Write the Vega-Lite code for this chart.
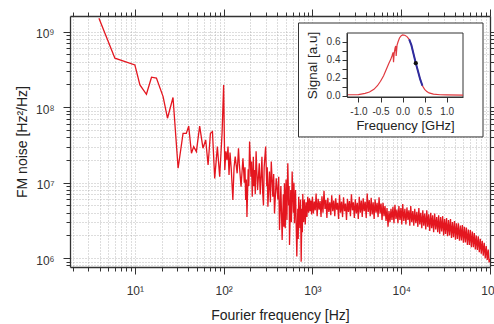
{
  "$schema": "https://vega.github.io/schema/vega-lite/v6.json",
  "width": 420,
  "height": 251,
  "autosize": "none",
  "padding": {"left": 70, "top": 16, "right": 4, "bottom": 57},
  "background": "white",
  "config": {
    "font": "Liberation Sans",
    "view": {"stroke": null},
    "axis": {"labelFont": "Liberation Sans", "titleFont": "Liberation Sans", "titleFontWeight": "normal", "labelColor": "#333", "titleColor": "#222", "domainColor": "#333", "tickColor": "#333"}
  },
  "datasets": {
    "noise": [
      {"f":3.94,"n":1.5e9},{"f":5.96,"n":4.45e8},{"f":10,"n":3.62e8},{"f":11.4,"n":1.97e8},{"f":13.5,"n":1.48e8},{"f":15.4,"n":2.49e8},{"f":17.5,"n":2.42e8},{"f":20.8,"n":1.38e8},{"f":23.3,"n":7.13e7},{"f":26.9,"n":1.34e8},{"f":30.7,"n":1.55e7},{"f":34.9,"n":4.5e7},{"f":38,"n":4.5e7},{"f":40.4,"n":5.6e7},{"f":43.4,"n":2.45e7},{"f":46,"n":3.0e7},{"f":49.3,"n":2.58e7},{"f":53.7,"n":5.6e7},{"f":58.5,"n":2.86e7},{"f":62.8,"n":3.69e7},{"f":66.8,"n":1.71e7},{"f":71,"n":4.5e7},{"f":74.8,"n":4.73e7},{"f":79.3,"n":1.14e7},{"f":85,"n":3.0e7},{"f":90.2,"n":1.2e7},{"f":96,"n":4.5e7},{"f":100,"n":1.97e8},{"f":103,"n":1.47e7},{"f":106,"n":2.6e7},{"f":109,"n":2.0e7},{"f":112,"n":3.0e7},{"f":115,"n":1.26e7},{"f":118,"n":2.5e7},{"f":122,"n":1.47e7},{"f":127,"n":5.9e6},{"f":131,"n":1.6e7},{"f":135,"n":2.21e7},{"f":142,"n":1.33e7},{"f":147,"n":2.86e7},{"f":150,"n":1.8e7},{"f":157,"n":8.85e6},{"f":165,"n":2.1e7},{"f":171,"n":1.0e7},{"f":174,"n":1.6e7},{"f":177,"n":5.9e6},{"f":180,"n":1.1e7},{"f":183,"n":3.5e6},{"f":189,"n":1.5e7},{"f":192,"n":9e6},{"f":196,"n":3.5e7},{"f":203,"n":1.2e7},{"f":206,"n":1.9e7},{"f":210,"n":6.5e6},{"f":216,"n":2.2e7},{"f":219,"n":9e6},{"f":223,"n":1.47e7},{"f":227,"n":7e6},{"f":232,"n":2.6e7},{"f":241,"n":8.0e6},{"f":252,"n":1.8e7},{"f":258,"n":7e6},{"f":265,"n":1.33e7},{"f":270,"n":2.2e7},{"f":275,"n":7.5e6},{"f":281,"n":5e6},{"f":286,"n":1.6e7},{"f":297,"n":3.0e7},{"f":306,"n":9e6},{"f":310,"n":1.6e7},{"f":315,"n":4.8e6},{"f":328,"n":1.4e7},{"f":336,"n":5.5e6},{"f":344,"n":1.9e7},{"f":358,"n":6.5e6},{"f":366,"n":1.3e7},{"f":374,"n":3.9e6},{"f":391,"n":1.14e7},{"f":408,"n":6e6},{"f":417,"n":1.2e7},{"f":426,"n":2.36e6},{"f":441,"n":9e6},{"f":456,"n":1.74e6},{"f":470,"n":7e6},{"f":477,"n":2.6e6},{"f":484,"n":9.8e6},{"f":494,"n":2.5e6},{"f":505,"n":1.1e7},{"f":516,"n":3.2e6},{"f":528,"n":1.8e7},{"f":540,"n":5e6},{"f":546,"n":9e6},{"f":552,"n":1.5e6},{"f":570,"n":8e6},{"f":580,"n":3e6},{"f":591,"n":1.4e7},{"f":610,"n":4e6},{"f":619,"n":1.0e7},{"f":628,"n":2.9e6},{"f":645,"n":8e6},{"f":667,"n":1.05e6},{"f":684,"n":4.5e6},{"f":692,"n":1.8e6},{"f":700,"n":6.5e6},{"f":722,"n":2.5e6},{"f":735,"n":6e6},{"f":747,"n":9.0e5},{"f":762,"n":4.5e6},{"f":770,"n":2.2e6},{"f":778,"n":7.1e6},{"f":795,"n":3.0e6},{"f":812,"n":6.0e6},{"f":830,"n":2.8e6},{"f":849,"n":5.5e6},{"f":867,"n":3.5e6},{"f":885,"n":6.5e6},{"f":905,"n":4.0e6},{"f":925,"n":6.2e6},{"f":942,"n":4.2e6},{"f":960,"n":5.8e6},{"f":980,"n":3.8e6},
      {"f":1000,"n":6.5e6},{"f":1025,"n":3.9e6},{"f":1050,"n":5.6e6},{"f":1075,"n":4.3e6},{"f":1100,"n":7.2e6},{"f":1130,"n":3.6e6},{"f":1160,"n":6.1e6},{"f":1190,"n":4.4e6},{"f":1220,"n":5.7e6},{"f":1250,"n":3.5e6},{"f":1280,"n":6.6e6},{"f":1315,"n":4.0e6},{"f":1350,"n":7.8e6},{"f":1385,"n":4.5e6},{"f":1420,"n":5.9e6},{"f":1455,"n":3.4e6},{"f":1490,"n":6.3e6},{"f":1530,"n":4.1e6},{"f":1570,"n":5.5e6},{"f":1610,"n":3.7e6},{"f":1650,"n":6.8e6},{"f":1695,"n":4.2e6},{"f":1740,"n":5.8e6},{"f":1785,"n":3.6e6},{"f":1830,"n":6.2e6},{"f":1875,"n":4.4e6},{"f":1920,"n":5.4e6},{"f":1970,"n":3.3e6},{"f":2020,"n":6.9e6},{"f":2075,"n":4.0e6},{"f":2130,"n":5.6e6},{"f":2185,"n":3.5e6},{"f":2240,"n":6.4e6},{"f":2300,"n":4.2e6},{"f":2360,"n":5.3e6},{"f":2420,"n":3.2e6},{"f":2480,"n":6.1e6},{"f":2545,"n":4.1e6},{"f":2610,"n":5.7e6},{"f":2680,"n":3.6e6},{"f":2750,"n":7.0e6},{"f":2820,"n":4.3e6},{"f":2890,"n":5.5e6},{"f":2965,"n":3.4e6},{"f":3040,"n":6.0e6},{"f":3120,"n":3.9e6},{"f":3200,"n":5.4e6},{"f":3285,"n":3.3e6},{"f":3370,"n":6.5e6},{"f":3460,"n":4.0e6},{"f":3550,"n":5.8e6},{"f":3640,"n":3.5e6},{"f":3730,"n":6.2e6},{"f":3830,"n":4.2e6},{"f":3930,"n":5.6e6},{"f":4035,"n":3.4e6},{"f":4140,"n":7.2e6},{"f":4250,"n":4.1e6},{"f":4360,"n":5.9e6},{"f":4475,"n":3.6e6},{"f":4590,"n":6.3e6},{"f":4710,"n":3.8e6},{"f":4830,"n":5.5e6},{"f":4955,"n":3.3e6},{"f":5080,"n":6.0e6},{"f":5215,"n":4.0e6},{"f":5350,"n":5.4e6},{"f":5490,"n":3.5e6},{"f":5630,"n":6.4e6},{"f":5780,"n":3.9e6},{"f":5930,"n":5.3e6},{"f":6085,"n":3.2e6},{"f":6240,"n":5.4e6},{"f":6405,"n":3.6e6},{"f":6570,"n":4.9e6},{"f":6745,"n":3.1e6},{"f":6920,"n":4.6e6},{"f":7100,"n":2.6e6},{"f":7280,"n":4.2e6},{"f":7475,"n":3.0e6},{"f":7670,"n":4.5e6},{"f":7870,"n":3.2e6},{"f":8070,"n":4.8e6},{"f":8285,"n":2.9e6},{"f":8500,"n":5.1e6},{"f":8725,"n":3.3e6},{"f":8950,"n":4.4e6},{"f":9185,"n":2.9e6},{"f":9420,"n":4.9e6},{"f":9670,"n":3.2e6},{"f":9920,"n":4.6e6},{"f":10150,"n":2.8e6},{"f":10400,"n":5.2e6},{"f":10700,"n":3.1e6},{"f":11000,"n":4.5e6},{"f":11300,"n":2.8e6},{"f":11600,"n":4.7e6},{"f":11900,"n":3.2e6},{"f":12200,"n":4.3e6},{"f":12500,"n":2.7e6},{"f":12800,"n":4.9e6},{"f":13150,"n":3.0e6},{"f":13500,"n":4.2e6},{"f":13850,"n":2.7e6},{"f":14200,"n":4.5e6},{"f":14600,"n":2.9e6},{"f":15000,"n":4.1e6},{"f":15400,"n":2.6e6},{"f":15800,"n":4.6e6},{"f":16200,"n":2.8e6},{"f":16600,"n":4.0e6},{"f":17050,"n":2.5e6},{"f":17500,"n":4.3e6},{"f":17950,"n":2.7e6},{"f":18400,"n":3.9e6},{"f":18900,"n":2.4e6},{"f":19400,"n":4.3e6},{"f":19900,"n":2.6e6},{"f":20400,"n":3.8e6},{"f":20950,"n":2.3e6},{"f":21500,"n":4.0e6},{"f":22050,"n":2.5e6},{"f":22600,"n":3.7e6},{"f":23200,"n":2.2e6},{"f":23800,"n":3.9e6},{"f":24450,"n":2.4e6},{"f":25100,"n":3.5e6},{"f":25750,"n":2.2e6},{"f":26400,"n":3.7e6},{"f":27100,"n":2.1e6},{"f":27800,"n":3.5e6},{"f":28550,"n":2.25e6},{"f":29300,"n":3.6e6},{"f":30050,"n":2.0e6},{"f":30800,"n":3.3e6},{"f":31600,"n":2.1e6},{"f":32400,"n":3.4e6},{"f":33250,"n":1.95e6},{"f":34100,"n":3.2e6},{"f":35000,"n":2.0e6},{"f":35900,"n":3.3e6},{"f":36850,"n":1.85e6},{"f":37800,"n":3.0e6},{"f":38800,"n":1.9e6},{"f":39800,"n":3.1e6},{"f":40850,"n":1.75e6},{"f":41900,"n":2.9e6},{"f":43000,"n":1.8e6},{"f":44100,"n":2.9e6},{"f":45300,"n":1.7e6},{"f":46500,"n":2.7e6},{"f":47700,"n":1.72e6},{"f":48900,"n":2.75e6},{"f":50200,"n":1.6e6},{"f":51500,"n":2.6e6},{"f":52850,"n":1.62e6},{"f":54200,"n":2.55e6},{"f":55650,"n":1.5e6},{"f":57100,"n":2.4e6},{"f":58600,"n":1.5e6},{"f":60100,"n":2.35e6},{"f":61700,"n":1.4e6},{"f":63300,"n":2.25e6},{"f":64950,"n":1.4e6},{"f":66600,"n":2.15e6},{"f":68350,"n":1.3e6},{"f":70100,"n":2.0e6},{"f":71950,"n":1.28e6},{"f":73800,"n":1.95e6},{"f":75750,"n":1.2e6},{"f":77700,"n":1.8e6},{"f":79750,"n":1.15e6},{"f":81800,"n":1.7e6},{"f":83950,"n":1.08e6},{"f":86100,"n":1.6e6},{"f":88400,"n":1.0e6},{"f":90700,"n":1.45e6},{"f":93100,"n":0.95e6},{"f":95500,"n":1.3e6},{"f":97750,"n":0.88e6},{"f":100000,"n":0.98e6}
    ],
    "box": [{"f1":697,"f2":83400,"n1":4.03e7,"n2":1.3e9}],
    "frame": [{"v1":-1.26,"v2":1.37,"s1":-0.015,"s2":0.695}],
    "sig": [
      {"v":-1.26,"s":0.010},{"v":-1.0,"s":0.012},{"v":-0.85,"s":0.025},{"v":-0.75,"s":0.04},{"v":-0.65,"s":0.07},{"v":-0.57,"s":0.11},{"v":-0.5,"s":0.16},{"v":-0.43,"s":0.22},{"v":-0.37,"s":0.29},{"v":-0.31,"s":0.36},{"v":-0.27,"s":0.40},{"v":-0.24,"s":0.44},{"v":-0.215,"s":0.48},{"v":-0.205,"s":0.37},{"v":-0.19,"s":0.47},{"v":-0.17,"s":0.53},{"v":-0.155,"s":0.55},{"v":-0.145,"s":0.44},{"v":-0.125,"s":0.56},{"v":-0.1,"s":0.60},{"v":-0.07,"s":0.64},{"v":-0.03,"s":0.665},{"v":0.0,"s":0.675},{"v":0.05,"s":0.67},{"v":0.1,"s":0.655},{"v":0.15,"s":0.625},{"v":0.2,"s":0.56},{"v":0.25,"s":0.46},{"v":0.3,"s":0.36},{"v":0.35,"s":0.27},{"v":0.4,"s":0.18},{"v":0.45,"s":0.11},{"v":0.5,"s":0.07},{"v":0.55,"s":0.045},{"v":0.6,"s":0.03},{"v":0.7,"s":0.017},{"v":0.85,"s":0.01},{"v":1.0,"s":0.008},{"v":1.37,"s":0.006}
    ],
    "blue": [
      {"v":0.15,"s":0.625},{"v":0.2,"s":0.56},{"v":0.25,"s":0.46},{"v":0.3,"s":0.36},{"v":0.35,"s":0.27},{"v":0.4,"s":0.18},{"v":0.45,"s":0.11}
    ],
    "dot": [{"v":0.3,"s":0.36}]
  },
  "resolve": {"scale": {"x": "independent", "y": "independent"}, "axis": {"x": "independent", "y": "independent"}},
  "layer": [
    {
      "data": {"name": "noise"},
      "mark": {"type": "line", "color": "#e4161f", "strokeWidth": 1.3, "clip": true},
      "encoding": {
        "x": {"field": "f", "type": "quantitative", "scale": {"type": "log", "domain": [1.86, 100000], "nice": false},
          "axis": {"orient": "bottom", "zindex": 0,
            "values": [2,3,4,5,6,7,8,9,10,20,30,40,50,60,70,80,90,100,200,300,400,500,600,700,800,900,1000,2000,3000,4000,5000,6000,7000,8000,9000,10000,20000,30000,40000,50000,60000,70000,80000,90000,100000],
            "labelExpr": "datum.value == 10 ? '10¹' : datum.value == 100 ? '10²' : datum.value == 1000 ? '10³' : datum.value == 10000 ? '10⁴' : datum.value == 100000 ? '10⁵' : ''",
            "labelOverlap": false, "labelBound": false, "labelFlush": false, "labelFontSize": 12, "labelPadding": 11,
            "tickSize": {"condition": {"test": "indexof([10,100,1000,10000,100000], datum.value) >= 0", "value": 7}, "value": 4},
            "domainWidth": 1.3, "grid": true, "gridColor": "#a8a8a8", "gridDash": [1, 2], "gridWidth": 0.8,
            "title": "Fourier frequency [Hz]", "titleFontSize": 14, "titlePadding": 12}},
        "y": {"field": "n", "type": "quantitative", "scale": {"type": "log", "domain": [764000, 1610000000], "nice": false},
          "axis": {"orient": "left", "zindex": 0,
            "values": [800000,900000,1000000,2000000,3000000,4000000,5000000,6000000,7000000,8000000,9000000,10000000,20000000,30000000,40000000,50000000,60000000,70000000,80000000,90000000,100000000,200000000,300000000,400000000,500000000,600000000,700000000,800000000,900000000,1000000000],
            "labelExpr": "datum.value == 1000000 ? '10⁶' : datum.value == 10000000 ? '10⁷' : datum.value == 100000000 ? '10⁸' : datum.value == 1000000000 ? '10⁹' : ''",
            "labelOverlap": false, "labelBound": false, "labelFlush": false, "labelFontSize": 12, "labelPadding": 9, "labelOffset": 2,
            "tickSize": {"condition": {"test": "indexof([1000000,10000000,100000000,1000000000], datum.value) >= 0", "value": 7}, "value": 4},
            "domainWidth": 1.3, "grid": true, "gridColor": "#a8a8a8", "gridDash": [1, 2], "gridWidth": 0.8,
            "title": "FM noise [Hz²/Hz]", "titleFontSize": 14, "titlePadding": 6}}
      }
    },
    {
      "data": {"name": "box"},
      "mark": {"type": "rect", "fill": "white", "stroke": "#333", "strokeWidth": 1},
      "encoding": {
        "x": {"field": "f1", "type": "quantitative", "scale": {"type": "log", "domain": [1.86, 100000], "nice": false},
          "axis": {"orient": "top", "zindex": 0, "title": null, "labels": false, "grid": false, "domainWidth": 1.3,
            "values": [2,3,4,5,6,7,8,9,10,20,30,40,50,60,70,80,90,100,200,300,400,500,600,700,800,900,1000,2000,3000,4000,5000,6000,7000,8000,9000,10000,20000,30000,40000,50000,60000,70000,80000,90000,100000],
            "tickSize": {"condition": {"test": "indexof([10,100,1000,10000,100000], datum.value) >= 0", "value": 7}, "value": 4}}},
        "x2": {"field": "f2"},
        "y": {"field": "n1", "type": "quantitative", "scale": {"type": "log", "domain": [764000, 1610000000], "nice": false},
          "axis": {"orient": "right", "zindex": 0, "title": null, "labels": false, "grid": false, "domainWidth": 1.3,
            "values": [800000,900000,1000000,2000000,3000000,4000000,5000000,6000000,7000000,8000000,9000000,10000000,20000000,30000000,40000000,50000000,60000000,70000000,80000000,90000000,100000000,200000000,300000000,400000000,500000000,600000000,700000000,800000000,900000000,1000000000],
            "tickSize": {"condition": {"test": "indexof([1000000,10000000,100000000,1000000000], datum.value) >= 0", "value": 7}, "value": 4}}},
        "y2": {"field": "n2"}
      }
    },
    {
      "layer": [
        {
          "data": {"name": "frame"},
          "mark": {"type": "rect", "fill": null, "stroke": "#333", "strokeWidth": 1},
          "encoding": {
            "x": {"field": "v1", "type": "quantitative", "scale": {"domain": [-1.26, 1.37], "range": [277, 393], "nice": false, "zero": false},
              "axis": {"orient": "bottom", "offset": -170, "zindex": 1, "values": [-1, -0.5, 0, 0.5, 1],
                "labelExpr": "replace(format(datum.value, '.1f'), '−', '-')", "labelFontSize": 10, "labelPadding": 4, "tickSize": 5,
                "grid": false, "labelBound": false, "labelFlush": false, "labelOverlap": false,
                "title": "Frequency [GHz]", "titleFontSize": 13, "titlePadding": 3}},
            "x2": {"field": "v2"},
            "y": {"field": "s1", "type": "quantitative", "scale": {"domain": [-0.015, 0.695], "range": [81, 17], "nice": false, "zero": false},
              "axis": {"orient": "left", "offset": -277, "zindex": 1, "values": [0, 0.1, 0.2, 0.3, 0.4, 0.5, 0.6],
                "labelExpr": "indexof([0, 0.2, 0.4, 0.6], datum.value) >= 0 ? format(datum.value, '.1f') : ''", "labelFontSize": 10, "labelPadding": 2, "tickSize": 5,
                "grid": false, "labelBound": false, "labelFlush": false, "labelOverlap": false,
                "title": "Signal [a.u]", "titleFontSize": 13.5, "titlePadding": 7}},
            "y2": {"field": "s2"}
          }
        },
        {
          "data": {"name": "sig"},
          "mark": {"type": "line", "color": "#e0393f", "strokeWidth": 1.2},
          "encoding": {"x": {"field": "v", "type": "quantitative"}, "y": {"field": "s", "type": "quantitative"}}
        },
        {
          "data": {"name": "blue"},
          "mark": {"type": "line", "color": "#2d2da0", "strokeWidth": 2},
          "encoding": {"x": {"field": "v", "type": "quantitative"}, "y": {"field": "s", "type": "quantitative"}}
        },
        {
          "data": {"name": "dot"},
          "mark": {"type": "point", "filled": true, "color": "#111", "size": 18, "opacity": 1},
          "encoding": {"x": {"field": "v", "type": "quantitative"}, "y": {"field": "s", "type": "quantitative"}}
        }
      ]
    }
  ]
}
